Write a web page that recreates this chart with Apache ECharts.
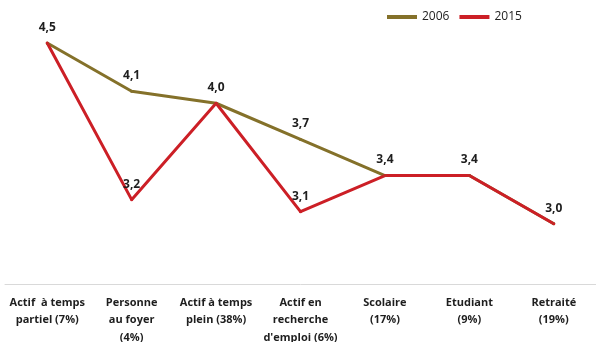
<!DOCTYPE html>
<html>
<head>
<meta charset="utf-8">
<script src="https://cdn.jsdelivr.net/npm/echarts@6/dist/echarts.min.js"></script>
<style>
  html, body { margin: 0; padding: 0; background: #ffffff; }
  #chart { width: 596px; height: 342px; }
</style>
</head>
<body>
<div id="chart"></div>
<script>
// Household categories (share of population in brackets)
const categories = [
  "Actif  à temps\npartiel (7%)",
  "Personne\nau foyer\n(4%)",
  "Actif à temps\nplein (38%)",
  "Actif en\nrecherche\nd'emploi (6%)",
  "Scolaire\n(17%)",
  "Etudiant\n(9%)",
  "Retraité\n(19%)"
];
const values2006 = [4.5, 4.1, 4.0, 3.7, 3.4, 3.4, 3.0];
const values2015 = [4.5, 3.2, 4.0, 3.1, 3.4, 3.4, 3.0];
const seriesNames = ["2006", "2015"];
const colors = ["#84712a", "#cc1f26"];

const fmt = v => v.toFixed(1).replace('.', ',');
const labelStyle = {
  show: true,
  position: 'top',
  distance: 8,
  fontFamily: 'Open Sans',
  fontWeight: 'bold',
  fontSize: 12,
  color: '#1e1e1e'
};

const chart = echarts.init(document.getElementById('chart'), null, { renderer: 'canvas' });
chart.setOption({
  animation: false,
  backgroundColor: '#ffffff',
  legend: {
    top: 6,
    left: 382,
    itemWidth: 30,
    itemHeight: 4,
    itemGap: 10,
    icon: 'rect',
    textStyle: { fontFamily: 'Open Sans', fontSize: 12, color: '#222' },
    data: seriesNames
  },
  grid: { left: 5, right: 0, top: 43, bottom: 58, outerBoundsMode: 'none', containLabel: false },
  xAxis: {
    type: 'category',
    data: categories,
    boundaryGap: true,
    axisLine: { lineStyle: { color: '#d9d9d9', width: 1 } },
    axisTick: { show: false },
    axisLabel: {
      interval: 0,
      margin: 10,
      fontFamily: 'Open Sans',
      fontWeight: 'bold',
      fontSize: 11,
      lineHeight: 17.5,
      color: '#1e1e1e'
    }
  },
  yAxis: {
    type: 'value',
    min: 2.5,
    max: 4.5,
    show: false,
    splitLine: { show: false }
  },
  series: [
    {
      name: seriesNames[0],
      type: 'line',
      data: values2006,
      symbol: 'circle',
      symbolSize: 3,
      showSymbol: true,
      color: colors[0],
      itemStyle: { color: colors[0] },
      lineStyle: { width: 3, color: colors[0] },
      label: Object.assign({}, labelStyle, { formatter: p => fmt(p.value) })
    },
    {
      name: seriesNames[1],
      type: 'line',
      data: values2015,
      symbol: 'circle',
      symbolSize: 3,
      showSymbol: true,
      color: colors[1],
      itemStyle: { color: colors[1] },
      lineStyle: { width: 3, color: colors[1] },
      // label only the points where 2015 differs from 2006
      label: Object.assign({}, labelStyle, {
        formatter: p => (p.value === values2006[p.dataIndex] ? '' : fmt(p.value))
      })
    }
  ]
});
</script>
</body>
</html>
